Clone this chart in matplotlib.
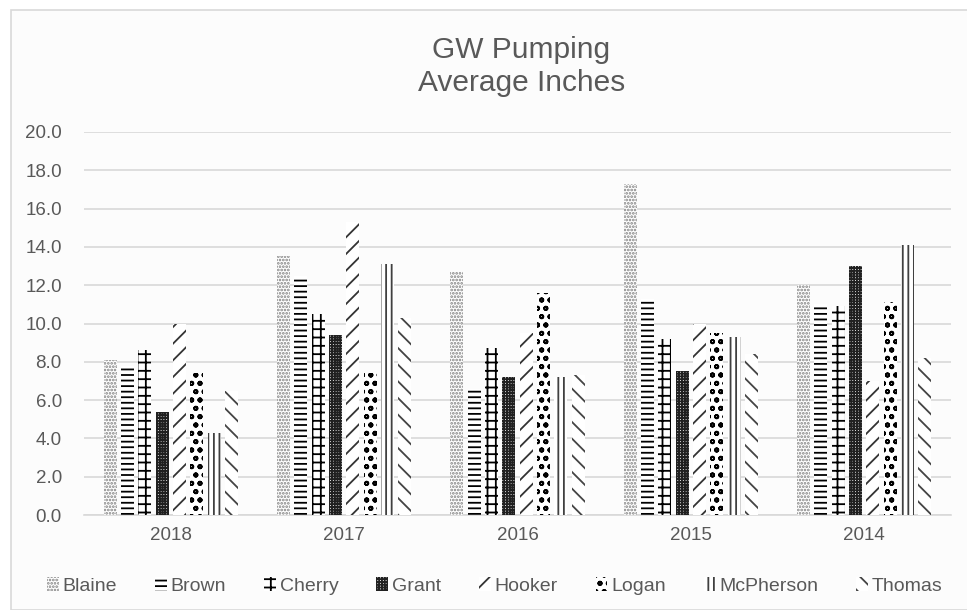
import matplotlib
matplotlib.use("Agg")
import matplotlib.pyplot as plt
import numpy as np

plt.rcParams['font.family'] = ['Liberation Sans', 'DejaVu Sans']
plt.rcParams['hatch.linewidth'] = 1.3

years = ['2018', '2017', '2016', '2015', '2014']
counties = ['Blaine', 'Brown', 'Cherry', 'Grant', 'Hooker', 'Logan', 'McPherson', 'Thomas']

blaine = [8.1, 13.5, 12.7, 17.3, 12.0]
brown = [7.8, 12.5, 6.6, 11.3, 11.0]
cherry = [8.6, 10.5, 8.7, 9.2, 10.9]
grant = [5.4, 9.4, 7.2, 7.5, 13.0]
hooker = [10.0, 15.3, 9.5, 10.0, 7.0]
logan = [7.4, 7.4, 11.6, 9.5, 11.1]
mcpherson = [4.3, 13.1, 7.2, 9.3, 14.1]
thomas = [6.5, 10.3, 7.3, 8.4, 8.2]
series = [blaine, brown, cherry, grant, hooker, logan, mcpherson, thomas]

hatches = ['.....', '---', '++', '++++++', '//', 'oo', '|||', '\\\\']
edgecols = ['#808080', 'black', 'black', '#202020', '#333333', 'black', '#404040', '#444444']

txt = '#595959'
fig = plt.figure(figsize=(9.67, 6.10), dpi=100)
fig.patch.set_facecolor('white')
# outer chart frame
fig.patches.append(plt.Rectangle((11 / 967, 0), 1.0, 600 / 610, transform=fig.transFigure,
                                 facecolor='#fcfcfc', edgecolor='#d9d9d9', lw=1.2, zorder=-1))

ax = fig.add_axes([84 / 967, 95 / 610, 867 / 967, 383 / 610])
ax.set_facecolor('#fcfcfc')

x = np.arange(len(years))
slot = 0.1
w = 0.075
for i, (name, vals) in enumerate(zip(counties, series)):
    ax.bar(x + (i - 3.5) * slot, vals, w, label=name, color='white',
           edgecolor=edgecols[i], hatch=hatches[i], linewidth=0, zorder=3)

ax.set_xlim(-0.5, len(years) - 0.5)
ax.set_ylim(0, 20)
ax.set_yticks(np.arange(0, 20.1, 2))
ax.set_yticklabels([f'{v:.1f}' for v in np.arange(0, 20.1, 2)])
ax.set_xticks(x)
ax.set_xticklabels(years)
ax.grid(axis='y', color='#d9d9d9', lw=1.2, zorder=0)
for s in ['top', 'right', 'left']:
    ax.spines[s].set_visible(False)
ax.spines['bottom'].set_color('#d9d9d9')
ax.spines['bottom'].set_linewidth(1.2)
ax.tick_params(axis='both', length=0, colors=txt, labelsize=13.5)
ax.tick_params(axis='y', pad=16)
ax.tick_params(axis='x', pad=9)

fig.text(0.539, 0.891, 'GW Pumping\nAverage Inches', ha='center', va='center',
         fontsize=21.5, color=txt, linespacing=1.2)

leg = ax.legend(loc='upper center', bbox_to_anchor=(0.474, -0.115), ncol=8, frameon=False,
                fontsize=14, handlelength=0.6, handleheight=0.8, handletextpad=0.2,
                columnspacing=1.95)
for t in leg.get_texts():
    t.set_color(txt)

fig.savefig('out.png', dpi=100)
